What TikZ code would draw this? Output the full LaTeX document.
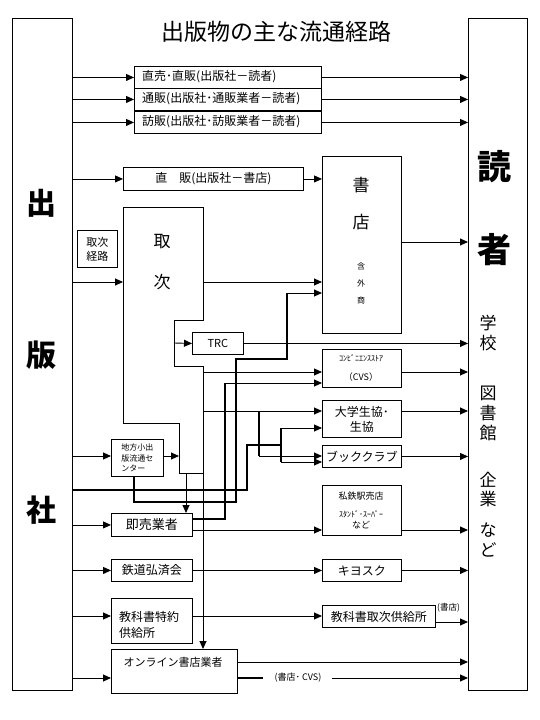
\documentclass[tikz,border=0pt]{standalone}
\usepackage{fontspec}
\setmainfont{Noto Sans CJK JP}
\usetikzlibrary{arrows.meta}
\begin{document}
\begin{tikzpicture}[x=1pt,y=-1pt,
 box/.style={draw, line width=0.9pt, inner sep=0pt, anchor=north west},
 ln/.style={line width=0.9pt},
 ar/.style={line width=0.9pt, -{Triangle[length=8pt,width=7pt]}},
 thk/.style={line width=2.6pt},
 mid/.style={line width=1.6pt},
 fa/.style={inner sep=0pt, font=\fontsize{12}{14}\selectfont},
 fb/.style={inner sep=0pt, font=\fontsize{12}{14}\selectfont},
 fs/.style={inner sep=0pt, font=\fontsize{8}{9}\selectfont},
 big/.style={inner sep=0pt, font=\fontsize{30}{30}\selectfont\bfseries},
 mdc/.style={inner sep=0pt, font=\fontsize{17}{17}\selectfont},
]
\path[use as bounding box, fill=white] (0,0) rectangle (540,720);

% side boxes
\node[box, minimum width=60pt, minimum height=672pt] (L) at (12,18) {};
\node[box, minimum width=59pt, minimum height=672pt] (R) at (468,18) {};
\node[big] (l1) at (41,203) {出};
\node[big] (l2) at (41,355) {版};
\node[big] (l3) at (41,510) {社};
\node[inner sep=0pt, font=\fontsize{34}{34}\selectfont\bfseries] (r1) at (494,167) {読};
\node[inner sep=0pt, font=\fontsize{34}{34}\selectfont\bfseries] (r2) at (494,250) {者};
\node[mdc] (r3) at (488,323) {学};
\node[mdc] (r4) at (488,343) {校};
\node[mdc] (r5) at (488,393) {図};
\node[mdc] (r6) at (488,413) {書};
\node[mdc] (r7) at (488,433) {館};
\node[mdc] (r8) at (488,480) {企};
\node[mdc] (r9) at (488,499) {業};
\node[mdc] (r10) at (488,530) {な};
\node[mdc] (r11) at (488,550) {ど};

% title
\node[inner sep=0pt, font=\fontsize{23}{23}\selectfont] (title) at (276,32) {出版物の主な流通経路};

% top boxes
\node[box, minimum width=187pt, minimum height=22pt] (b1) at (134,66) {};
\node[box, minimum width=187pt, minimum height=22pt] (b2) at (134,88) {};
\node[box, minimum width=187pt, minimum height=22pt] (b3) at (134,111) {};
\draw[line width=2pt] (b2.south west) -- (b2.south east);
\node[fa, anchor=west] (b1t) at (142,77) {直売･直販(出版社－読者)};
\node[fa, anchor=west] (b2t) at (142,99) {通販(出版社･通販業者－読者)};
\node[fa, anchor=west] (b3t) at (142,122) {訪販(出版社･訪販業者－読者)};
\foreach \b in {b1,b2,b3}{
  \draw[ar] (L.east |- \b.west) -- (\b.west);
  \draw[ar] (\b.east) -- (R.west |- \b.east);
}

% direct sale to bookstore
\node[box, minimum width=180pt, minimum height=23pt, font=\fontsize{12}{14}\selectfont] (b4) at (123,167) {直　販(出版社－書店)};
\node[box, minimum width=79pt, minimum height=177pt] (shoten) at (322,156) {};
\node[mdc] (s1) at (361,185) {書};
\node[mdc] (s2) at (361,222) {店};
\node[fs] (s3) at (361,266) {含};
\node[fs] (s4) at (361,283) {外};
\node[fs] (s5) at (361,300) {商};
\draw[ar] (L.east |- b4.west) -- (b4.west);
\draw[ar] (b4.east) -- (shoten.west |- b4.east);
\coordinate (sR) at (401,242);
\draw[ar] (sR) -- (R.west |- sR);

% toritsugi
\node[box, minimum width=40pt, minimum height=37pt, align=center, font=\fontsize{11}{14}\selectfont] (tkr) at (77,230) {取次\\経路};
\coordinate (t1) at (123,207);
\coordinate (t2) at (203,207);
\coordinate (t3) at (203,320);
\coordinate (t4) at (174,320);
\coordinate (t5) at (174,366);
\coordinate (t6) at (203,366);
\coordinate (t7) at (203,473);
\coordinate (t8) at (179,473);
\coordinate (t9) at (179,423);
\coordinate (t10) at (123,423);
\draw[ln] (t1) -- (t2) -- (t3) -- (t4) -- (t5) -- (t6) -- (t7) -- (t8) -- (t9) -- (t10) -- cycle;
\node[mdc] (tt1) at (162,242) {取};
\node[mdc] (tt2) at (162,282) {次};
\coordinate (tIn) at (123,282);
\coordinate (tOut) at (203,282);
\draw[ar] (L.east |- tIn) -- (tIn);
\draw[ar] (tOut) -- (shoten.west |- tOut);

% TRC
\node[box, minimum width=51pt, minimum height=22pt, font=\fontsize{11}{13}\selectfont] (trc) at (192,332) {TRC};
\coordinate (tT) at (174,343);
\draw[ar] (tT) -- (trc.west);
\draw[ar] (trc.east) -- (R.west |- trc.east);

% CVS
\node[box, minimum width=79pt, minimum height=38pt] (cvs) at (322,349) {};
\node[fs] (cvs1) at (361,358) {ｺﾝﾋﾞﾆｴﾝｽｽﾄｱ};
\node[inner sep=0pt, font=\fontsize{9}{10}\selectfont] (cvs2) at (361,377) {（CVS）};
\coordinate (tC) at (203,372);
\draw[ar] (tC) -- (cvs.west |- tC);
\coordinate (cR) at (401,372);
\draw[ar] (cR) -- (R.west |- cR);

% university coop
\node[box, minimum width=79pt, minimum height=37pt, align=center, font=\fontsize{12}{15}\selectfont] (dai) at (322,400) {大学生協･\\生協};
\coordinate (tD) at (203,411);
\draw[ar] (tD) -- (dai.west |- tD);
\coordinate (dR) at (401,411);
\draw[ar] (dR) -- (R.west |- dR);

% book club
\node[box, minimum width=79pt, minimum height=22pt, font=\fontsize{12}{14}\selectfont] (book) at (322,445) {ブッククラブ};
\draw[ar] (book.east) -- (R.west |- book.east);
\coordinate (j1) at (259,411);
\coordinate (j2) at (259,456);
\draw[mid] (j1) -- (j2);
\draw[ar] (j2) -- (book.west |- j2);

% chiho
\node[box, minimum width=52pt, minimum height=37pt, align=left, font=\fontsize{8}{10.5}\selectfont] (chiho) at (111,439) {地方小出\\版流通セ\\ンター};
\coordinate (cIn) at (111,456);
\coordinate (cOut) at (179,456);
\draw[ar] (L.east |- cIn) -- (cIn);
\draw[ar] (chiho.east |- cOut) -- (cOut);

% thick line from publisher to coop / book club
\coordinate (k0) at (72,490);
\coordinate (k1) at (247,490);
\coordinate (k2) at (247,445);
\coordinate (k3) at (281,445);
\coordinate (k4) at (281,428);
\coordinate (k5) at (281,462);
\draw[thk] (k0) -- (k1) -- (k2) -- (k3);
\draw[mid] (k4) -- (k5);
\draw[ar] (k4) -- (dai.west |- k4);
\draw[ar] (k5) -- (book.west |- k5);

% chiho -> shoten thick
\coordinate (m0) at (134,476);
\coordinate (m1) at (134,502);
\coordinate (m2) at (236,502);
\coordinate (m3) at (236,359);
\coordinate (m4) at (287,359);
\coordinate (m5) at (287,293);
\draw[thk] (m0) -- (m1) -- (m2) -- (m3) -- (m4) -- (m5);
\draw[ar] (m5) -- (shoten.west |- m5);

% sokubai
\node[box, minimum width=81pt, minimum height=23pt, font=\fontsize{13}{15}\selectfont] (soku) at (111,513) {即売業者};
\draw[ar] (L.east |- soku.west) -- (soku.west);
\coordinate (tS) at (186,473);
\draw[ar] (tS) -- (soku.north -| tS);
\coordinate (n0) at (192,519);
\coordinate (n1) at (225,519);
\coordinate (n2) at (225,383);
\draw[thk] (n0) -- (n1) -- (n2);
\draw[ar] (n2) -- (cvs.west |- n2);

% shitetsu
\node[box, minimum width=79pt, minimum height=50pt] (shi) at (322,485) {};
\node[inner sep=0pt, font=\fontsize{9}{10}\selectfont] (shi1) at (361,496) {私鉄駅売店};
\node[fs] (shi2) at (361,514) {ｽﾀﾝﾄﾞ･ｽｰﾊﾟｰ};
\node[inner sep=0pt, font=\fontsize{9}{10}\selectfont] (shi3) at (361,525) {など};
\coordinate (sO) at (192,530);
\draw[ar] (sO) -- (shi.west |- sO);
\coordinate (shR) at (401,530);
\draw[ar] (shR) -- (R.west |- shR);

% tetsudo / kiosk
\node[box, minimum width=81pt, minimum height=22pt, font=\fontsize{12}{14}\selectfont] (tetsu) at (111,559) {鉄道弘済会};
\node[box, minimum width=79pt, minimum height=22pt, font=\fontsize{12}{14}\selectfont] (kiosk) at (322,559) {キヨスク};
\draw[ar] (L.east |- tetsu.west) -- (tetsu.west);
\draw[ar] (tetsu.east) -- (kiosk.west);
\draw[ar] (kiosk.east) -- (R.west |- kiosk.east);

% textbooks
\node[box, minimum width=81pt, minimum height=45pt] (kyo) at (111,598) {};
\node[fb, anchor=west] (kyo1) at (119,617) {教科書特約};
\node[fb, anchor=west] (kyo2) at (119,633) {供給所};
\node[box, minimum width=113pt, minimum height=22pt, font=\fontsize{12}{14}\selectfont] (kyt) at (322,605) {教科書取次供給所};
\coordinate (kI) at (111,616);
\coordinate (kO) at (192,616);
\draw[ar] (L.east |- kI) -- (kI);
\draw[ar] (kO) -- (kyt.west |- kO);
\coordinate (ktR) at (435,622);
\draw[ar] (ktR) -- (R.west |- ktR);
\node[inner sep=0pt, font=\fontsize{8.5}{9}\selectfont, anchor=west] (kysh) at (437,608) {(書店)};

% online
\node[box, minimum width=126pt, minimum height=44pt] (onl) at (111,649) {};
\node[inner sep=0pt, font=\fontsize{11}{13}\selectfont] (onlt) at (173,662) {オンライン書店業者};
\coordinate (tO) at (203,473);
\draw[ar] (tO) -- (onl.north -| tO);
\coordinate (oI) at (111,678);
\draw[ar] (L.east |- oI) -- (oI);
\coordinate (oR1) at (237,662);
\draw[ar] (oR1) -- (R.west |- oR1);
\coordinate (oR2) at (237,678);
\coordinate (oR3) at (263,678);
\draw[mid] (oR2) -- (oR3);
\node[inner sep=0pt, font=\fontsize{9}{10}\selectfont] (onl2) at (298,678) {(書店･ CVS)};
\coordinate (oR4) at (332,678);
\draw[ar] (oR4) -- (R.west |- oR4);
\end{tikzpicture}
\end{document}
